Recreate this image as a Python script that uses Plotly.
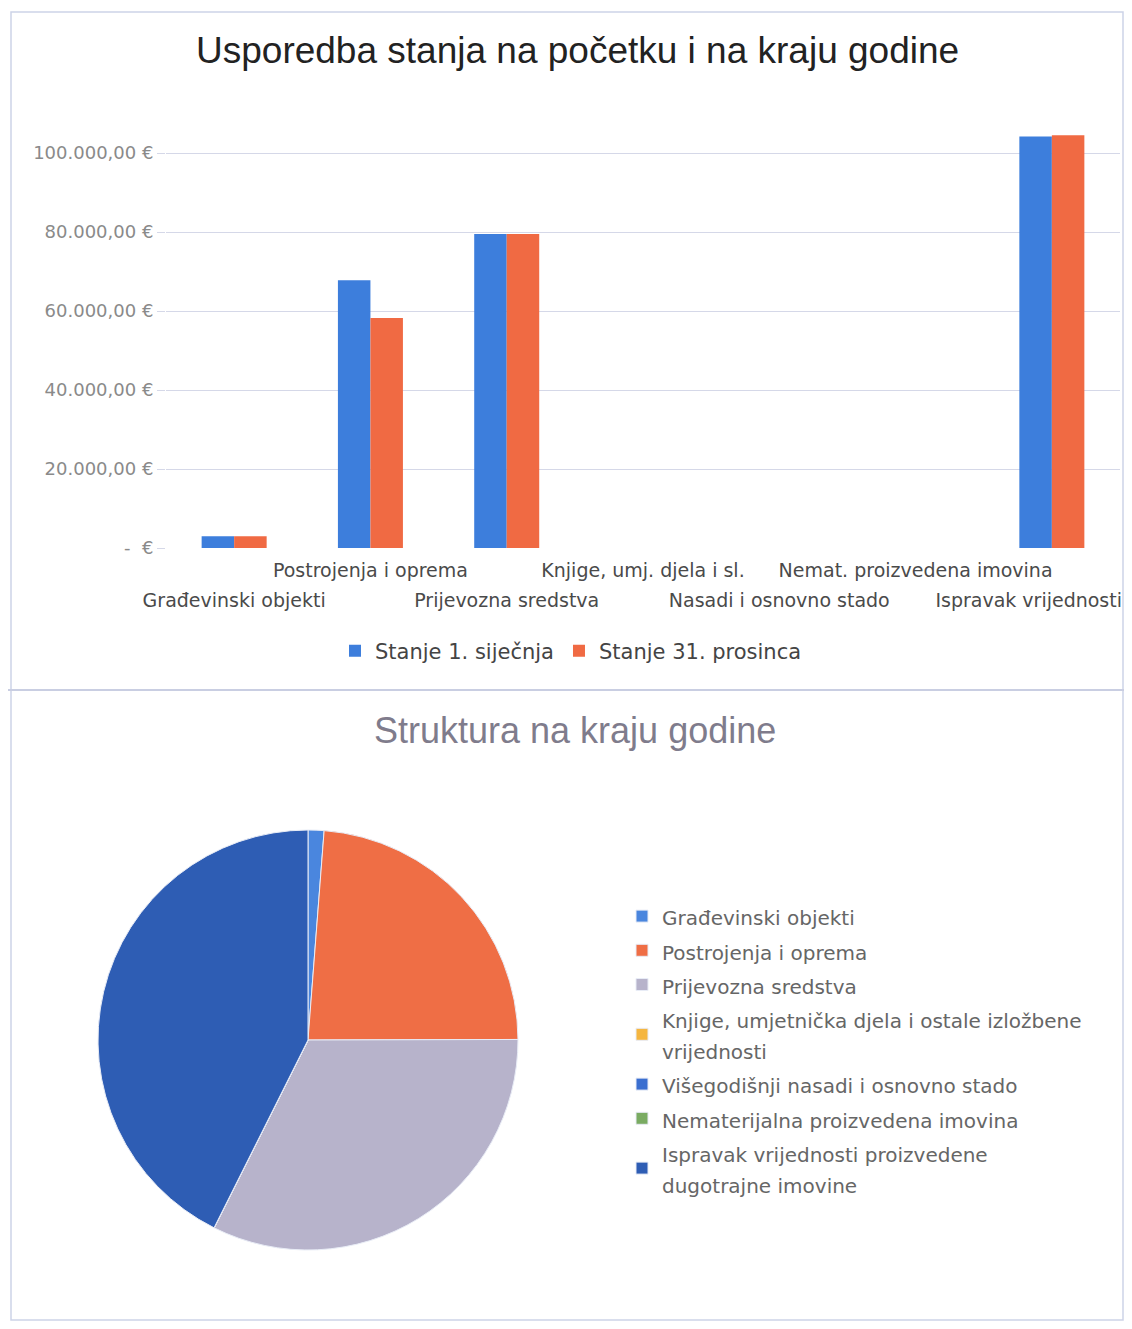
import plotly.graph_objects as go

# ---------------- data ----------------
categories = [
    "Građevinski objekti",
    "Postrojenja i oprema",
    "Prijevozna sredstva",
    "Knjige, umj. djela i sl.",
    "Nasadi i osnovno stado",
    "Nemat. proizvedena imovina",
    "Ispravak vrijednosti",
]
stanje_1_sijecnja = [3000, 67800, 79500, 0, 0, 0, 104200]
stanje_31_prosinca = [3000, 58200, 79500, 0, 0, 0, 104500]

series_names = ["Stanje 1. siječnja", "Stanje 31. prosinca"]

pie_labels = [
    "Građevinski objekti",
    "Postrojenja i oprema",
    "Prijevozna sredstva",
    "Knjige, umjetnička djela i ostale izložbene<br>vrijednosti",
    "Višegodišnji nasadi i osnovno stado",
    "Nematerijalna proizvedena imovina",
    "Ispravak vrijednosti proizvedene<br>dugotrajne imovine",
]
pie_values = stanje_31_prosinca  # structure at year end

y_tick_values = [0, 20000, 40000, 60000, 80000, 100000]

title_top = "Usporedba stanja na početku i na kraju godine"
title_bottom = "Struktura na kraju godine"

# ---------------- styles ----------------
BAR_COLORS = ["#3d7edc", "#f06a43"]
PIE_COLORS = ["#4a86de", "#ef6e45", "#b7b3cb", "#f5b640", "#3b6fd0", "#7aab62", "#2e5db4"]
GRID = "#d5d8e8"
OFF = 8  # default page body margin
W, H = 1132 - 2 * OFF, 1329 - 2 * OFF


def fmt_eur(v):
    if v == 0:
        return "-  €"
    s = f"{v:,.2f}"
    s = s.replace(",", "X").replace(".", ",").replace("X", ".")
    return s + " €"


def px_x(p):
    return (p - OFF) / W


def px_y(p):
    return 1 - (p - OFF) / H


def sized(text, size):
    return "<br>".join(f"<span style='font-size:{size}px'>{part}</span>" for part in text.split("<br>"))


fig = go.Figure()

for name, vals, col in zip(series_names, [stanje_1_sijecnja, stanje_31_prosinca], BAR_COLORS):
    fig.add_trace(go.Bar(
        x=categories, y=vals, name=name,
        marker=dict(color=col, line=dict(width=0)),
        legend="legend",
    ))

fig.add_trace(go.Pie(
    labels=[sized(l, 20) for l in pie_labels], values=pie_values,
    sort=False, direction="clockwise", rotation=0,
    marker=dict(colors=PIE_COLORS, line=dict(color="#e8ecf6", width=1)),
    textinfo="none", hoverinfo="label+value",
    domain=dict(x=[px_x(98), px_x(518)], y=[px_y(1250), px_y(830)]),
    legend="legend2",
))

# tick label positions (category index); the last one is nudged left to stay inside the frame
tick_pos = [float(i) for i in range(len(categories))]
tick_pos[-1] -= 0.17
tick_text = [sized(("<br>" + c) if i % 2 == 0 else c, 19) for i, c in enumerate(categories)]

fig.update_layout(
    width=W, height=H,
    margin=dict(l=0, r=0, t=0, b=0, autoexpand=False),
    paper_bgcolor="white", plot_bgcolor="white",
    font=dict(family="DejaVu Sans", color="#444"),
    barmode="group", bargap=0.523, bargroupgap=0,
    xaxis=dict(
        domain=[px_x(166), px_x(1120)],
        type="category",
        categoryorder="array", categoryarray=categories,
        range=[-0.5, len(categories) - 0.5],
        tickmode="array", tickvals=tick_pos, ticktext=tick_text,
        tickangle=0,
        tickfont=dict(family="DejaVu Sans", size=23, color="#4a4a4a"),
        ticklabelstandoff=5,
        showgrid=False, showline=False, zeroline=False,
        ticks="", automargin=False,
        anchor="y",
    ),
    yaxis=dict(
        domain=[px_y(548), px_y(113.5)],
        range=[0, 110000],
        tickmode="array", tickvals=y_tick_values,
        ticktext=[fmt_eur(v) for v in y_tick_values],
        tickfont=dict(family="DejaVu Sans", size=18, color="#8a8a8a"),
        showgrid=True, gridcolor=GRID, gridwidth=1,
        zeroline=False, showline=False,
        ticks="outside", ticklen=8, tickcolor=GRID,
        automargin=False,
        anchor="x",
    ),
    legend=dict(
        orientation="h", x=px_x(571), xanchor="center",
        y=px_y(651), yanchor="middle",
        font=dict(family="DejaVu Sans", size=21, color="#444"),
        bgcolor="rgba(0,0,0,0)",
    ),
    legend2=dict(
        orientation="v", x=px_x(622), xanchor="left",
        y=px_y(894), yanchor="top",
        font=dict(family="DejaVu Sans", size=24, color="#666"),
        bgcolor="rgba(0,0,0,0)",
        valign="middle",
    ),
    annotations=[
        dict(text=title_top, x=px_x(577), y=px_y(50), xref="paper", yref="paper",
             xanchor="center", yanchor="middle", showarrow=False,
             font=dict(family="Liberation Sans", size=37, color="#222")),
        dict(text=title_bottom, x=px_x(575), y=px_y(730), xref="paper", yref="paper",
             xanchor="center", yanchor="middle", showarrow=False,
             font=dict(family="Liberation Sans", size=36, color="#7f7c8c")),
    ],
    shapes=[
        dict(type="rect", xref="paper", yref="paper",
             x0=px_x(11), x1=px_x(1123), y0=px_y(1320), y1=px_y(12),
             line=dict(color="#cdd3e8", width=1.5), fillcolor="rgba(0,0,0,0)"),
        dict(type="line", xref="paper", yref="paper",
             x0=px_x(8), x1=1, y0=px_y(690), y1=px_y(690),
             line=dict(color="#c9cee2", width=2)),
    ],
)

fig.write_html("out.html")
